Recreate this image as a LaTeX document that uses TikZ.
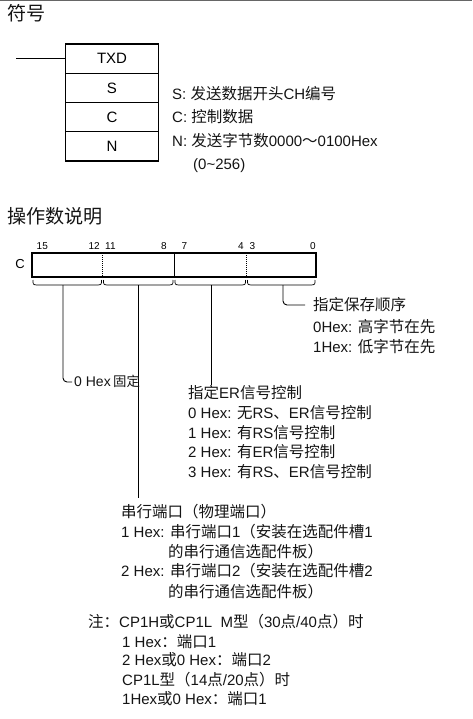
\documentclass[tikz,border=0pt]{standalone}
\usepackage{fontspec}
\setmainfont{Liberation Sans}
\newfontfamily\zhfont[Scale=1.033]{Noto Sans CJK SC}
\newcommand\zh[1]{{\zhfont #1}}
\begin{document}
\begin{tikzpicture}[x=1pt,y=-1pt,
  txt/.style={anchor=base west, inner sep=0pt, font=\fontsize{15}{16}\selectfont, text=black!92},
  head/.style={anchor=base west, inner sep=0pt, font=\fontsize{18.5}{20}\selectfont\zhfont, text=black!92},
  cell/.style={draw, line width=1.2pt, minimum width=93pt, minimum height=29.25pt, inner sep=0pt, font=\fontsize{15}{16}\selectfont},
  bit/.style={inner sep=0pt, font=\fontsize{10}{12}\selectfont},
  brace/.style={line width=0.7pt},
  leader/.style={line width=0.9pt, rounded corners=4pt}]
\useasboundingbox (0,0) rectangle (472,719);
% top rule
\draw[line width=1.5pt, black!60] (0,0.75) -- (472,0.75);
% headings
\node[head] (h1) at (7,21) {符号};
\node[head] (h2) at (7,223) {操作数说明};
% instruction box
\node[cell] (txd) at (112,58.6) {TXD};
\node[cell] (cs) at (112,87.9) {S};
\node[cell] (cc) at (112,117.1) {C};
\node[cell] (cn) at (112,146.4) {N};
\coordinate (in) at (16,58.6);
\draw[line width=1.2pt] (in) -- (txd.west);
% operand texts
\node[txt] (ts) at (172,99.5) {S: \zh{发送数据开头}CH\zh{编号}};
\node[txt] (tc) at (172,123) {C: \zh{控制数据}};
\node[txt] (tn) at (172,146.5) {N: \zh{发送字节数}0000\zh{～}0100Hex};
\node[txt] (tr) at (193,169.5) {(0\textasciitilde256)};
% register bar
\node[draw, line width=1.1pt, minimum width=284pt, minimum height=24pt, inner sep=0pt] (bar) at (174,265) {};
\node[inner sep=0pt, font=\fontsize{13}{14}\selectfont, anchor=east] (clab) at (25,264) {C};
\draw[line width=0.8pt, dash pattern=on 1pt off 1pt] (102.5,253) -- (102.5,277);
\draw[line width=1pt] (174,253) -- (174,277);
\draw[line width=0.8pt, dash pattern=on 1pt off 1pt] (246.5,253) -- (246.5,277);
\node[bit, anchor=west] (n15) at (36.5,246) {15};
\node[bit, anchor=east] (n12) at (100,246) {12};
\node[bit, anchor=west] (n11) at (105,246) {11};
\node[bit, anchor=east] (n8) at (167,246) {8};
\node[bit, anchor=west] (n7) at (181.5,246) {7};
\node[bit, anchor=east] (n4) at (244,246) {4};
\node[bit, anchor=west] (n3) at (249.5,246) {3};
\node[bit, anchor=east] (n0) at (316,246) {0};
% braces
\foreach \a/\b/\m/\n in {32/102.5/63/1, 102.5/174/138/2, 174/246.5/211/3, 246.5/316/283/4}{
  \draw[brace] ({\a+1},280) .. controls ({\a+1},284.5) .. ({\a+4.5},285) -- ({\b-4.5},285) .. controls ({\b-1},284.5) .. ({\b-1},280);
  \coordinate (b\n) at (\m,285);
}
% leader ends
\coordinate (e1) at (72,382);
\coordinate (e2) at (138,498);
\coordinate (e3) at (211,385);
\coordinate (e4) at (305,305);
\draw[leader] (b1) |- (e1);
\draw[leader] (b2) -- (e2);
\draw[leader] (b3) -- (e3);
\draw[leader] (b4) |- (e4);
% bit 3-0 text
\node[txt] (o1) at (313,310.5) {\zh{指定保存顺序}};
\node[txt] (o2) at (313,332.5) {0Hex: \zh{高字节在先}};
\node[txt] (o3) at (313,352.5) {1Hex: \zh{低字节在先}};
% bit 15-12 text
\node[txt, font=\fontsize{14}{15}\selectfont] (fix) at (74,386) {0 Hex\,{\fontsize{13}{14}\selectfont\zhfont 固定}};
% bit 7-4 text
\node[txt] (r1) at (188,398.5) {\zh{指定}ER\zh{信号控制}};
\node[txt] (r2) at (188,418.5) {0 Hex: \zh{无}RS\zh{、}ER\zh{信号控制}};
\node[txt] (r3) at (188,438.5) {1 Hex: \zh{有}RS\zh{信号控制}};
\node[txt] (r4) at (188,457.5) {2 Hex: \zh{有}ER\zh{信号控制}};
\node[txt] (r5) at (188,477.5) {3 Hex: \zh{有}RS\zh{、}ER\zh{信号控制}};
% bit 11-8 text
\node[txt] (p1) at (121,517.5) {\zh{串行端口（物理端口）}};
\node[txt] (p2) at (121,537.5) {1 Hex: \zh{串行端口}1\zh{（安装在选配件槽}1};
\node[txt] (p3) at (168,557.5) {\zh{的串行通信选配件板）}};
\node[txt] (p4) at (121,576.5) {2 Hex: \zh{串行端口}2\zh{（安装在选配件槽}2};
\node[txt] (p5) at (168,597.5) {\zh{的串行通信选配件板）}};
% note
\node[txt] (q1) at (88,627.5) {\zh{注：}CP1H\zh{或}CP1L\ \ M\zh{型（}30\zh{点}/40\zh{点）时}};
\node[txt] (q2) at (122,647.5) {1 Hex\zh{：端口}1};
\node[txt] (q3) at (122,665.5) {2 Hex\zh{或}0 Hex\zh{：端口}2};
\node[txt] (q4) at (122,685.5) {CP1L\zh{型（}14\zh{点}/20\zh{点）时}};
\node[txt] (q5) at (122,704.5) {1Hex\zh{或}0 Hex\zh{：端口}1};
\end{tikzpicture}
\end{document}
